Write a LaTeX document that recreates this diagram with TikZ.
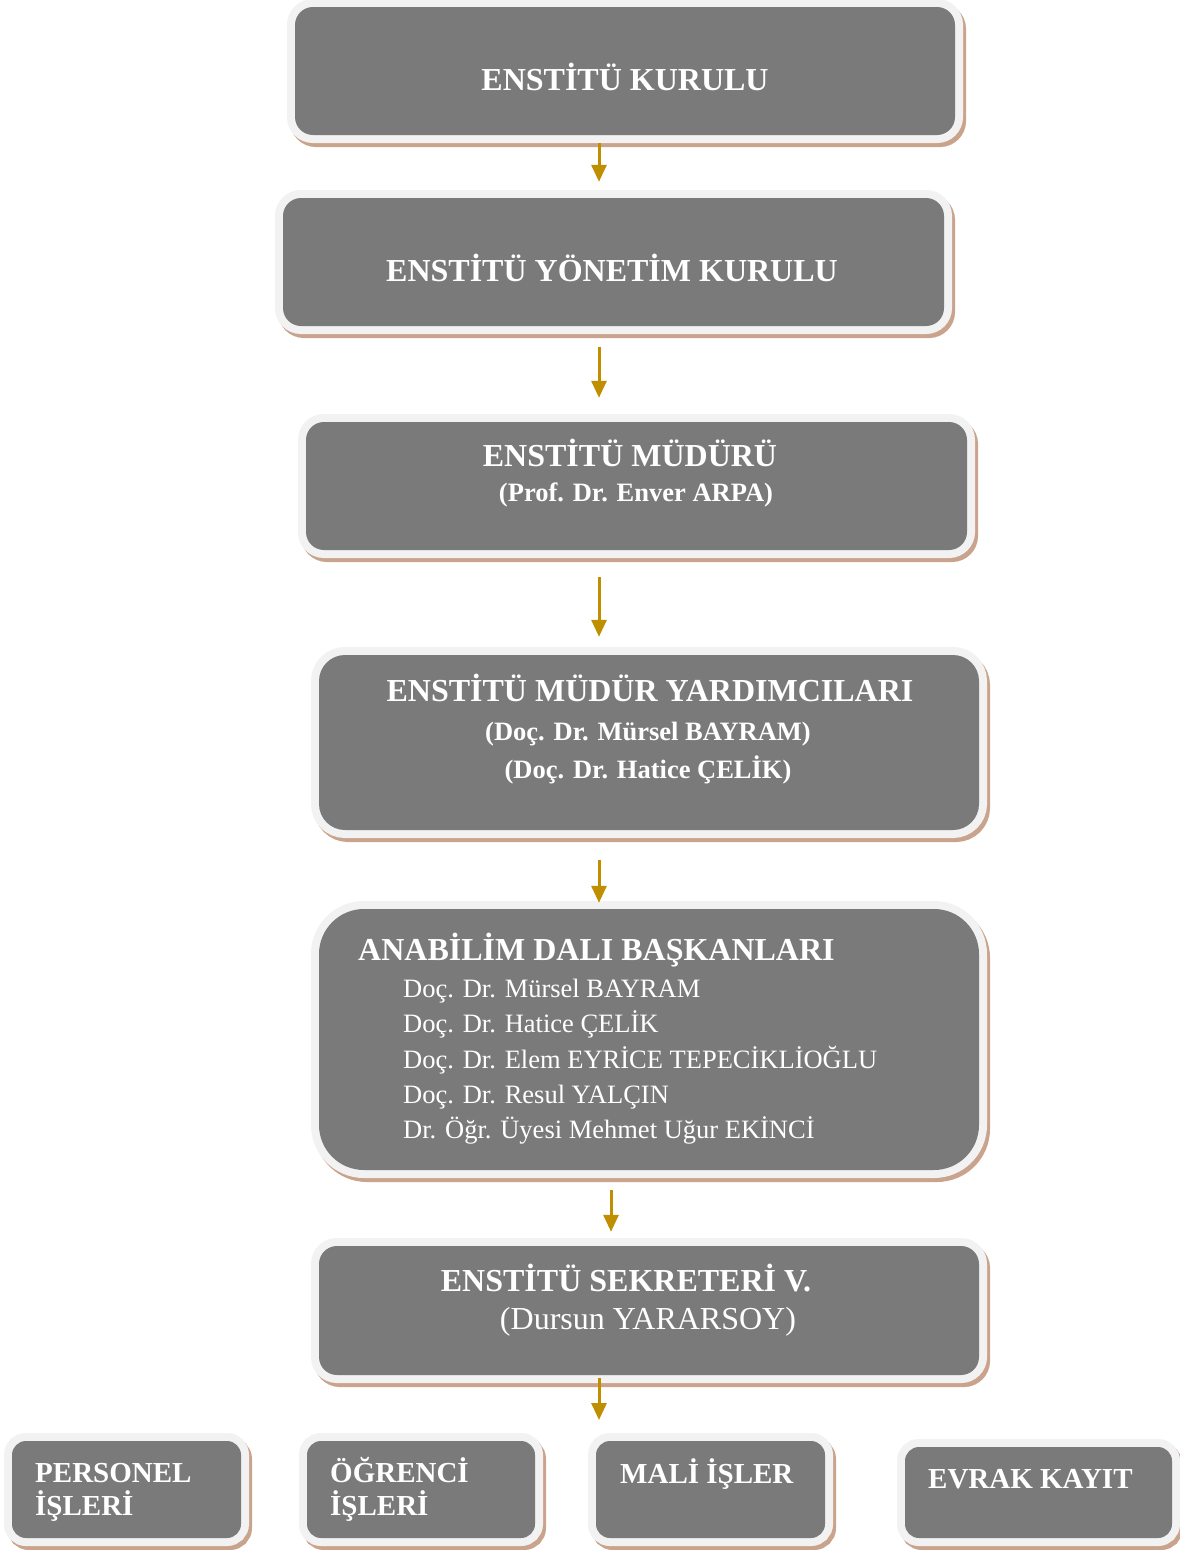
\documentclass[tikz,border=0pt]{standalone}
\usepackage{fontspec}
\setmainfont{Liberation Serif}
\usetikzlibrary{arrows.meta,calc}
\definecolor{boxgrey}{RGB}{122,122,122}
\definecolor{bandgrey}{RGB}{242,242,242}
\definecolor{shadowtan}{RGB}{201,163,140}
\definecolor{arrowgold}{RGB}{191,143,0}
\tikzset{
  orgbox/.style={rectangle, rounded corners=#1, fill=boxgrey, inner sep=0pt,
    preaction={draw=shadowtan, fill=shadowtan, line width=16pt, transform canvas={shift={(3pt,-4pt)}}},
    preaction={draw=bandgrey, fill=bandgrey, line width=16pt}},
  orgbox/.default=18pt,
  title/.style={text=white, font=\bfseries\fontsize{32}{38}\selectfont, inner sep=0pt, anchor=base},
  subtitle/.style={text=white, font=\bfseries\fontsize{26.5}{32}\selectfont, inner sep=0pt, anchor=base},
  member/.style={text=white, font=\fontsize{26.5}{32}\selectfont, inner sep=0pt, anchor=base west},
  unit/.style={text=white, font=\bfseries\fontsize{29}{33}\selectfont, inner sep=0pt, anchor=base west},
  conn/.style={draw=arrowgold, line width=3pt, -{Triangle[width=15pt,length=17pt]}},
}
\begin{document}
\begin{tikzpicture}[x=1pt,y=-1pt]
\useasboundingbox (0,0) rectangle (1179,1550);
\fill[white] (0,0) rectangle (1179,1550);

% boxes
\node[orgbox, minimum width=660pt, minimum height=128pt] (b1) at (625,71) {};
\node[orgbox, minimum width=661pt, minimum height=128pt] (b2) at (613.5,262) {};
\node[orgbox, minimum width=661pt, minimum height=128pt] (b3) at (636.5,486) {};
\node[orgbox=26pt, minimum width=660pt, minimum height=175pt] (b4) at (649,742.5) {};
\node[orgbox=45pt, minimum width=660pt, minimum height=261pt] (b5) at (649,1039.5) {};
\node[orgbox, minimum width=660pt, minimum height=129pt] (b6) at (649,1310.5) {};
\node[orgbox=14pt, minimum width=229pt, minimum height=97pt] (u1) at (126.5,1489.5) {};
\node[orgbox=14pt, minimum width=228pt, minimum height=97pt] (u2) at (421,1489.5) {};
\node[orgbox=14pt, minimum width=229pt, minimum height=97pt] (u3) at (710.5,1489.5) {};
\node[orgbox=14pt, minimum width=267pt, minimum height=91pt] (u4) at (1038.5,1492.5) {};

% texts
\node[title] (t1) at (625,90) {ENSTİTÜ KURULU};
\node[title] (t2) at (612,281) {ENSTİTÜ YÖNETİM KURULU};
\node[title] (t3a) at (630,466) {ENSTİTÜ MÜDÜRÜ};
\node[subtitle] (t3b) at (636,501) {(Prof. Dr. Enver ARPA)};
\node[title] (t4a) at (650,701) {ENSTİTÜ MÜDÜR YARDIMCILARI};
\node[subtitle] (t4b) at (648,740) {(Doç. Dr. Mürsel BAYRAM)};
\node[subtitle] (t4c) at (648,778) {(Doç. Dr. Hatice ÇELİK)};
\node[title, anchor=base west] (t5) at (358,960) {ANABİLİM DALI BAŞKANLARI};
\node[member] (m1) at (403,997) {Doç. Dr. Mürsel BAYRAM};
\node[member] (m2) at (403,1032) {Doç. Dr. Hatice ÇELİK};
\node[member] (m3) at (403,1068) {Doç. Dr. Elem EYRİCE TEPECİKLİOĞLU};
\node[member] (m4) at (403,1103) {Doç. Dr. Resul YALÇIN};
\node[member] (m5) at (403,1138) {Dr. Öğr. Üyesi Mehmet Uğur EKİNCİ};
\node[title] (t6a) at (626,1291) {ENSTİTÜ SEKRETERİ V.};
\node[title, font=\fontsize{32}{38}\selectfont] (t6b) at (648,1329) {(Dursun YARARSOY)};
\node[unit] (p1a) at (35,1482) {PERSONEL};
\node[unit] (p1b) at (35,1515) {İŞLERİ};
\node[unit] (p2a) at (330,1482) {ÖĞRENCİ};
\node[unit] (p2b) at (330,1515) {İŞLERİ};
\node[unit] (p3) at (620,1483) {MALİ İŞLER};
\node[unit] (p4) at (928,1488) {EVRAK KAYIT};

% connectors
\coordinate (ax) at (599,0);
\coordinate (bx) at (611,0);
\coordinate (end6) at (599,1420);
\draw[conn] ($(b1.south -| ax)+(0,8)$) -- ($(b2.north -| ax)+(0,-16)$);
\draw[conn] ($(b2.south -| ax)+(0,21)$) -- ($(b3.north -| ax)+(0,-24)$);
\draw[conn] ($(b3.south -| ax)+(0,27)$) -- ($(b4.north -| ax)+(0,-18)$);
\draw[conn] ($(b4.south -| ax)+(0,30)$) -- ($(b5.north -| ax)+(0,-6)$);
\draw[conn] ($(b5.south -| bx)+(0,20)$) -- ($(b6.north -| bx)+(0,-14)$);
\draw[conn] ($(b6.south -| ax)+(0,3)$) -- (end6);
\end{tikzpicture}
\end{document}
